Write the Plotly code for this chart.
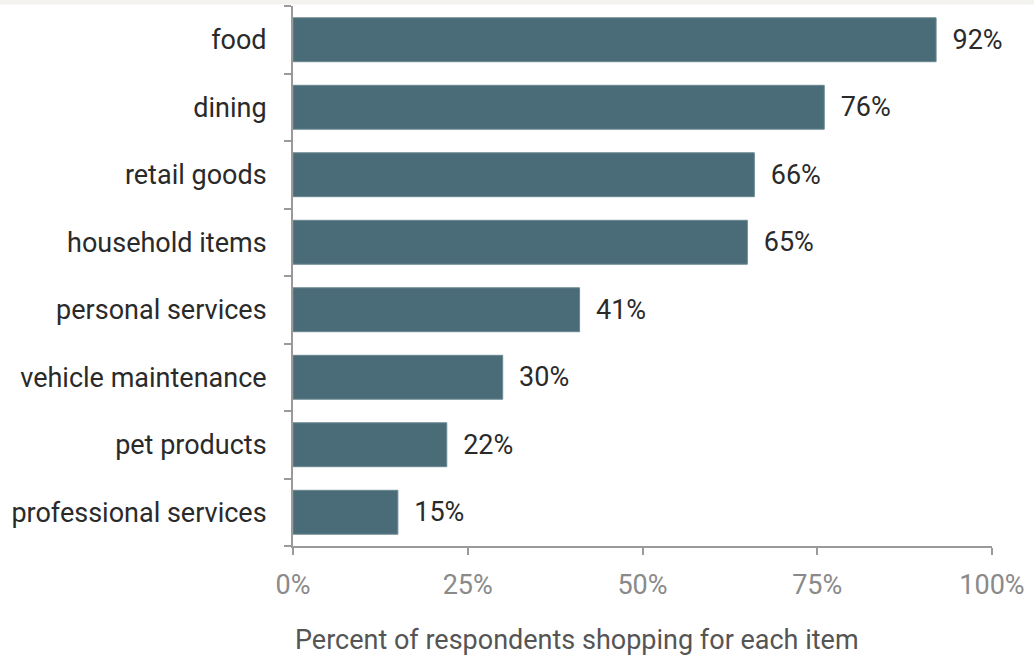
import plotly.graph_objects as go

categories = ["food", "dining", "retail goods", "household items", "personal services",
              "vehicle maintenance", "pet products", "professional services"]
values = [92, 76, 66, 65, 41, 30, 22, 15]
labels = ["\u00a0\u00a0" + f"{v}%" for v in values]
x_ticks = [0, 25, 50, 75, 100]
x_ticklabels = ["0%", "25%", "50%", "75%", "100%"]
x_title = "Percent of respondents shopping for each item"

fig = go.Figure(go.Bar(
    y=categories, x=values, orientation="h",
    marker=dict(color="#4a6c78", line=dict(color="#6a8792", width=1)),
    width=0.65,
    text=labels, textposition="outside",
    textfont=dict(family="Roboto", size=27, color="#2a2a2a"),
    cliponaxis=False,
))

fig.update_layout(
    width=1034, height=660,
    margin=dict(l=293, r=42, t=6, b=114),
    paper_bgcolor="white", plot_bgcolor="white",
    showlegend=False,
    font=dict(family="Roboto"),
    xaxis=dict(
        range=[0, 100], tickvals=x_ticks, ticktext=x_ticklabels,
        showgrid=False, zeroline=False, automargin=False,
        showline=True, linecolor="#9a9a9a", linewidth=2,
        ticks="outside", ticklen=7, tickcolor="#9a9a9a", tickwidth=2,
        tickfont=dict(family="Roboto", size=27, color="#8a8a8a"),
        ticklabelstandoff=7,
    ),
    yaxis=dict(
        categoryorder="array", categoryarray=categories[::-1],
        range=[-0.5, 7.5], automargin=False,
        showgrid=False, zeroline=False,
        showline=True, linecolor="#9a9a9a", linewidth=2,
        ticks="outside", ticklen=7, tickcolor="#9a9a9a", tickwidth=2,
        tickson="boundaries",
        tickfont=dict(family="Roboto", size=27, color="#2a2a2a"),
        ticklabelstandoff=19,
    ),
    annotations=[dict(text=x_title, xref="paper", yref="paper",
                      x=0, xanchor="left", y=-94 / 540, yanchor="middle",
                      showarrow=False,
                      font=dict(family="Roboto", size=27, color="#555555"))],
    shapes=[dict(type="rect", xref="paper", yref="paper",
                 x0=-1, x1=2, y0=1 + 1.5 / 540, y1=1 + 7 / 540,
                 fillcolor="#f4f2ee", line=dict(width=0), layer="below")],
)

fig.write_html("out.html", config={"displayModeBar": False},
               post_script="document.body.style.margin='0';document.body.style.padding='0';")
